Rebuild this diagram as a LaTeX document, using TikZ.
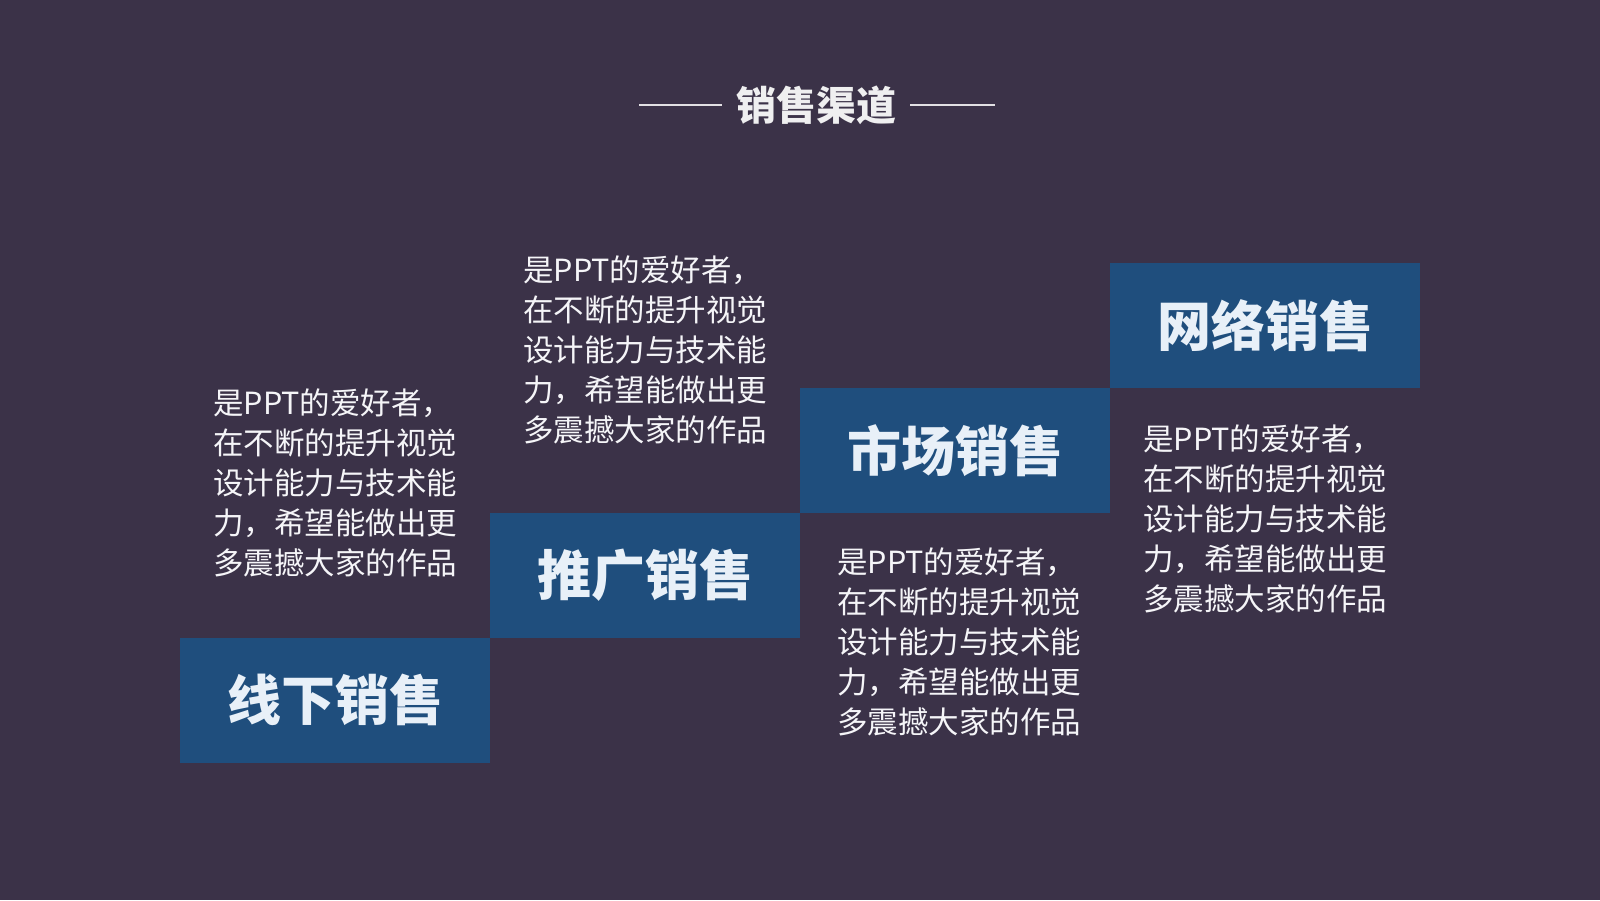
\documentclass[tikz,border=0pt]{standalone}
\usepackage{fontspec}
\newfontfamily\cjk{Noto Sans CJK SC}
\definecolor{bgc}{RGB}{59,50,72}
\definecolor{boxc}{RGB}{31,78,125}
\definecolor{boxtxt}{RGB}{232,240,248}
\definecolor{bodytxt}{RGB}{245,245,248}
\tikzset{
  stepbox/.style={fill=boxc, draw=none, minimum width=310pt, minimum height=125pt, inner sep=0pt,
    font=\cjk\bfseries\fontsize{54}{60}\selectfont, text=boxtxt},
  bodytext/.style={anchor=base west, inner sep=0pt, align=left, text=bodytxt,
    font=\cjk\fontsize{30.5}{40}\selectfont},
  titleline/.style={draw=white!85!bgc, line width=1.3pt}
}
\begin{document}
\begin{tikzpicture}[x=1pt,y=-1pt]
\fill[bgc] (0,0) rectangle (1600,900);
\useasboundingbox (0,0) rectangle (1600,900);
% title
\node[inner sep=0pt, text=white!92!bgc, font=\cjk\bfseries\fontsize{40}{44}\selectfont] (title) at (816,105) {销售渠道};
\coordinate (tl1) at (639,105);
\coordinate (tr2) at (995,105);
\draw[titleline] (tl1) -- ([xshift=-14pt]title.west |- tl1);
\draw[titleline] ([xshift=14pt]title.east |- tr2) -- (tr2);
% boxes
\node[stepbox] (b1) at (335,700) {线下销售};
\node[stepbox] (b2) at (645,575.5) {推广销售};
\node[stepbox] (b3) at (955,450.5) {市场销售};
\node[stepbox] (b4) at (1265,325.5) {网络销售};
% texts (base anchor = last line)
\node[bodytext] (t1) at (213,574) {是PPT的爱好者，\\在不断的提升视觉\\设计能力与技术能\\力，希望能做出更\\多震撼大家的作品};
\node[bodytext] (t2) at (523,441) {是PPT的爱好者，\\在不断的提升视觉\\设计能力与技术能\\力，希望能做出更\\多震撼大家的作品};
\node[bodytext] (t3) at (837,733) {是PPT的爱好者，\\在不断的提升视觉\\设计能力与技术能\\力，希望能做出更\\多震撼大家的作品};
\node[bodytext] (t4) at (1143,610) {是PPT的爱好者，\\在不断的提升视觉\\设计能力与技术能\\力，希望能做出更\\多震撼大家的作品};
\end{tikzpicture}
\end{document}
